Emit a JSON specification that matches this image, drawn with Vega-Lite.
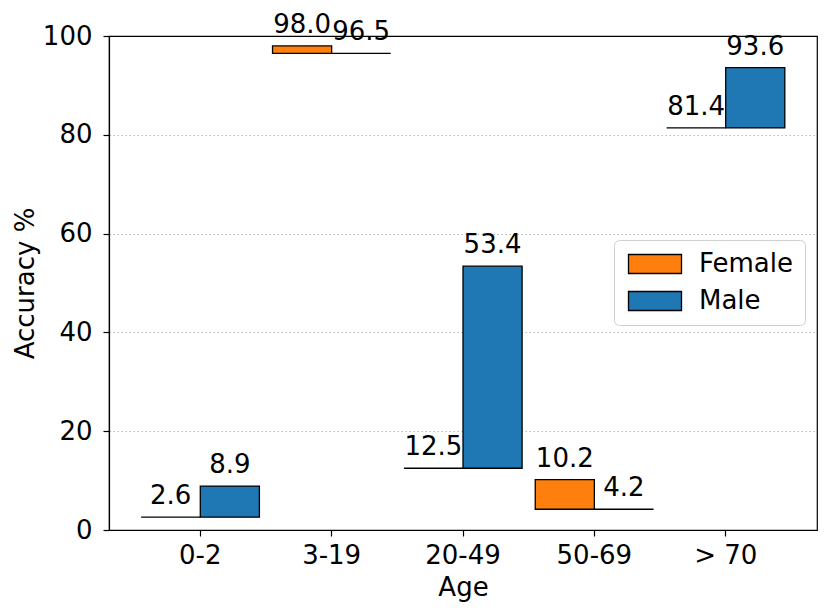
{
  "$schema": "https://vega.github.io/schema/vega-lite/v6.json",
  "description": "Accuracy by age group and gender",
  "autosize": "none",
  "padding": {"left": 109, "top": 36, "right": 13, "bottom": 85},
  "width": 708,
  "height": 494,
  "data": {
    "values": [
      {"age": "0-2", "gender": "Female", "value": 2.6},
      {"age": "0-2", "gender": "Male", "value": 8.9},
      {"age": "3-19", "gender": "Female", "value": 98.0},
      {"age": "3-19", "gender": "Male", "value": 96.5},
      {"age": "20-49", "gender": "Female", "value": 12.5},
      {"age": "20-49", "gender": "Male", "value": 53.4},
      {"age": "50-69", "gender": "Female", "value": 10.2},
      {"age": "50-69", "gender": "Male", "value": 4.2},
      {"age": "> 70", "gender": "Female", "value": 81.4},
      {"age": "> 70", "gender": "Male", "value": 93.6}
    ]
  },
  "transform": [
    {"joinaggregate": [{"op": "min", "field": "value", "as": "base"}], "groupby": ["age"]}
  ],
  "encoding": {
    "x": {
      "field": "age",
      "type": "nominal",
      "sort": ["0-2", "3-19", "20-49", "50-69", "> 70"],
      "scale": {"paddingInner": 0.1, "paddingOuter": 0.245},
      "title": "Age",
      "axis": {"labelAngle": 0, "labelBaseline": "alphabetic", "labelPadding": 27, "titleBaseline": "alphabetic", "titleY": 65, "grid": false}
    },
    "xOffset": {
      "field": "gender",
      "type": "nominal",
      "sort": ["Female", "Male"],
      "scale": {"paddingInner": 0, "paddingOuter": 0}
    },
    "y": {
      "field": "value",
      "type": "quantitative",
      "scale": {"domain": [0, 100], "nice": false},
      "title": "Accuracy %",
      "axis": {
        "values": [0, 20, 40, 60, 80, 100],
        "labelPadding": 11,
        "titleBaseline": "alphabetic",
        "titleX": -76,
        "grid": true,
        "gridOpacity": {"condition": {"test": "datum.value >= 100 || datum.value <= 0", "value": 0}, "value": 1}
      }
    }
  },
  "layer": [
    {
      "mark": {"type": "bar", "stroke": "black", "strokeWidth": 1.3},
      "encoding": {
        "y2": {"field": "base"},
        "color": {
          "field": "gender",
          "type": "nominal",
          "scale": {"domain": ["Female", "Male"], "range": ["#ff7f0e", "#1f77b4"]},
          "legend": {"title": null}
        }
      }
    },
    {
      "mark": {"type": "text", "baseline": "alphabetic", "dy": -13, "fontSize": 26, "font": "DejaVu Sans", "color": "black"},
      "encoding": {
        "text": {"field": "value", "type": "quantitative", "format": ".1f"}
      }
    }
  ],
  "config": {
    "font": "DejaVu Sans",
    "view": {"stroke": "black", "strokeWidth": 1.2},
    "axis": {
      "domainColor": "black",
      "domainWidth": 1.2,
      "tickColor": "black",
      "tickWidth": 1.2,
      "tickSize": 6,
      "labelFont": "DejaVu Sans",
      "labelFontSize": 26,
      "labelColor": "black",
      "titleFont": "DejaVu Sans",
      "titleFontSize": 26,
      "titleFontWeight": "normal",
      "titleColor": "black",
      "gridColor": "#b0b0b0",
      "gridDash": [1.5, 2.5],
      "gridWidth": 0.9
    },
    "axisX": {"labelFlush": false},
    "axisY": {"labelFlush": false},
    "legend": {
      "orient": "none",
      "legendX": 505,
      "legendY": 204,
      "padding": 11,
      "fillColor": "white",
      "strokeColor": "#d0d0d0",
      "cornerRadius": 5,
      "symbolType": "M-2.79,-1H2.79V1H-2.79Z",
      "symbolSize": 361,
      "symbolStrokeColor": "black",
      "symbolStrokeWidth": 1.3,
      "symbolOpacity": 1,
      "symbolOffset": 17,
      "labelOffset": 31,
      "labelFont": "DejaVu Sans",
      "labelFontSize": 26,
      "labelColor": "black",
      "rowPadding": 11
    }
  }
}
